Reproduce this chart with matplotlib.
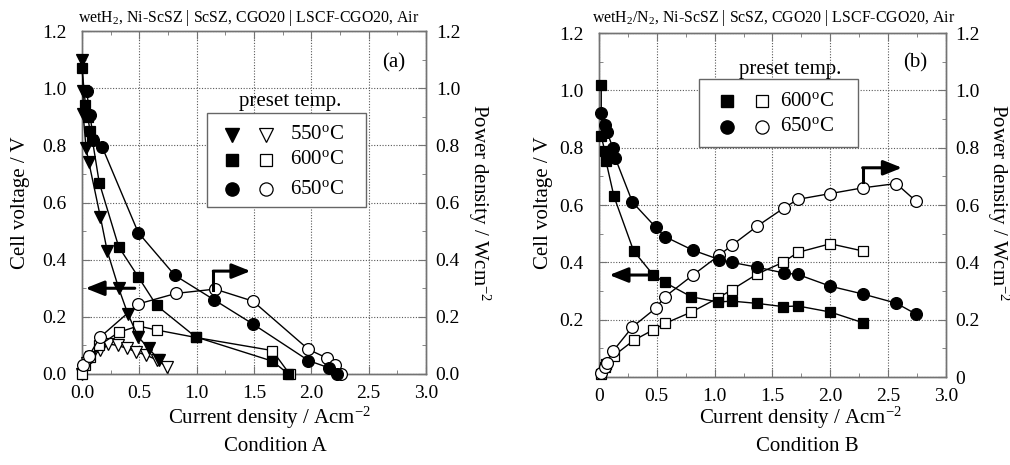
import matplotlib
matplotlib.use("Agg")
import matplotlib.pyplot as plt
from matplotlib.patches import Rectangle
from matplotlib.ticker import MultipleLocator, FixedLocator, FixedFormatter

plt.rcParams["font.family"] = ["Liberation Serif", "DejaVu Serif"]
plt.rcParams["mathtext.fontset"] = "custom"
plt.rcParams["mathtext.rm"] = "Liberation Serif"
plt.rcParams["mathtext.it"] = "Liberation Serif:italic"

# ---- Condition A (wet H2) ----
a550_i_v = [0.0, 0.01, 0.01, 0.035, 0.06, 0.16, 0.22, 0.32, 0.40, 0.49, 0.58, 0.67]
a550_v = [1.10, 0.99, 0.91, 0.79, 0.74, 0.55, 0.43, 0.30, 0.21, 0.13, 0.09, 0.05]
a550_i_p = [0.0, 0.02, 0.04, 0.08, 0.16, 0.23, 0.31, 0.39, 0.47, 0.56, 0.65, 0.74]
a550_p = [0.0, 0.02, 0.04, 0.06, 0.085, 0.105, 0.10, 0.09, 0.078, 0.066, 0.05, 0.025]

a600_i_v = [0.0, 0.03, 0.05, 0.07, 0.09, 0.15, 0.32, 0.49, 0.65, 0.99, 1.66, 1.80]
a600_v = [1.07, 0.94, 0.90, 0.85, 0.82, 0.67, 0.445, 0.34, 0.24, 0.13, 0.045, 0.0]
a600_i_p = [0.0, 0.03, 0.07, 0.15, 0.32, 0.49, 0.65, 0.99, 1.66, 1.81]
a600_p = [0.0, 0.03, 0.06, 0.10, 0.146, 0.168, 0.154, 0.128, 0.082, 0.0]

a650_i_v = [0.04, 0.07, 0.10, 0.175, 0.49, 0.81, 1.15, 1.49, 1.975, 2.15, 2.22]
a650_v = [0.99, 0.905, 0.82, 0.795, 0.495, 0.345, 0.26, 0.175, 0.047, 0.022, 0.0]
a650_i_p = [0.01, 0.06, 0.155, 0.49, 0.82, 1.16, 1.49, 1.975, 2.14, 2.21, 2.26]
a650_p = [0.03, 0.063, 0.128, 0.245, 0.282, 0.297, 0.255, 0.086, 0.055, 0.031, 0.0]

# ---- Condition B (wet H2/N2) ----
b600_i = [0.02, 0.02, 0.05, 0.06, 0.13, 0.30, 0.47, 0.57, 0.80, 1.03, 1.15, 1.37, 1.59, 1.72, 2.0, 2.28]
b600_v = [1.02, 0.84, 0.79, 0.755, 0.63, 0.44, 0.356, 0.33, 0.28, 0.262, 0.265, 0.257, 0.246, 0.248, 0.227, 0.19]
b600_i_p = [0.02, 0.05, 0.06, 0.13, 0.30, 0.47, 0.57, 0.80, 1.03, 1.15, 1.37, 1.59, 1.72, 2.0, 2.28]
b600_p = [0.01, 0.035, 0.045, 0.075, 0.128, 0.165, 0.187, 0.227, 0.276, 0.305, 0.36, 0.40, 0.435, 0.465, 0.44]

b650_i = [0.02, 0.05, 0.07, 0.12, 0.14, 0.29, 0.49, 0.57, 0.81, 1.04, 1.15, 1.37, 1.6, 1.72, 2.0, 2.28, 2.57, 2.74]
b650_v = [0.92, 0.88, 0.855, 0.80, 0.765, 0.61, 0.523, 0.49, 0.443, 0.41, 0.40, 0.383, 0.363, 0.358, 0.317, 0.29, 0.258, 0.22]
b650_i_p = [0.02, 0.05, 0.07, 0.12, 0.29, 0.49, 0.57, 0.81, 1.04, 1.15, 1.37, 1.6, 1.72, 2.0, 2.28, 2.57, 2.74]
b650_p = [0.015, 0.035, 0.05, 0.09, 0.175, 0.24, 0.28, 0.355, 0.425, 0.46, 0.527, 0.59, 0.62, 0.64, 0.66, 0.675, 0.614]

x_ticks = [0.0, 0.5, 1.0, 1.5, 2.0, 2.5, 3.0]
y_ticks = [0.0, 0.2, 0.4, 0.6, 0.8, 1.0, 1.2]
temps_a = ["550$^{\\rm o}$C", "600$^{\\rm o}$C", "650$^{\\rm o}$C"]
temps_b = ["600$^{\\rm o}$C", "650$^{\\rm o}$C"]

SPINE = "0.45"
MS = {"v": 8.5, "s": 7.5, "o": 8.5}
ARROW = "-|>,head_length=0.8,head_width=0.32"


def style_axes(ax, ax2, xlabels, ylabels_left, ylabels_right):
    ax.set_xlim(0, 3.0)
    ax.set_ylim(0, 1.2)
    ax2.set_ylim(0, 1.2)
    ax.xaxis.set_major_locator(FixedLocator(x_ticks))
    ax.xaxis.set_major_formatter(FixedFormatter(xlabels))
    ax.xaxis.set_minor_locator(MultipleLocator(0.25))
    ax.yaxis.set_major_locator(FixedLocator(y_ticks))
    ax.yaxis.set_major_formatter(FixedFormatter(ylabels_left))
    ax.yaxis.set_minor_locator(MultipleLocator(0.1))
    ax2.yaxis.set_major_locator(FixedLocator(y_ticks))
    ax2.yaxis.set_major_formatter(FixedFormatter(ylabels_right))
    ax2.yaxis.set_minor_locator(MultipleLocator(0.1))
    ax.grid(True, which="major", linestyle=(0, (1, 1.5)), linewidth=0.8, color="0.35")
    for a in (ax, ax2):
        a.tick_params(which="both", direction="in", labelsize=14, color=SPINE, pad=7)
        a.tick_params(which="major", length=6)
        a.tick_params(which="minor", length=3)
        for s in a.spines.values():
            s.set_color(SPINE)
            s.set_linewidth(1.0)
    ax.tick_params(which="both", top=True)
    ax.tick_params(axis="y", which="major", pad=11)
    ax.tick_params(axis="x", which="major", pad=8)


def curve(ax, x, y, marker, filled):
    ax.plot(x, y, color="black", lw=1.0, marker=marker, ms=MS[marker],
            mfc="black" if filled else "white", mec="black", mew=0.9,
            clip_on=False, zorder=4)


def legend_box(ax, box, title_xy, rows, marker_x, label_x, markers, labels):
    ax.add_patch(Rectangle(box[0], box[1], box[2], transform=ax.transAxes,
                           fc="white", ec="0.4", lw=1.0, zorder=8))
    ax.text(title_xy[0], title_xy[1], "preset temp.", transform=ax.transAxes,
            ha="center", va="center", fontsize=15, zorder=9)
    for y, m, lab in zip(rows, markers, labels):
        ax.plot([marker_x[0]], [y], transform=ax.transAxes, marker=m, ms=MS[m] + 1,
                mfc="black", mec="black", ls="none", zorder=9, clip_on=False)
        ax.plot([marker_x[1]], [y], transform=ax.transAxes, marker=m, ms=MS[m] + 1,
                mfc="white", mec="black", mew=0.9, ls="none", zorder=9, clip_on=False)
        ax.text(label_x, y, lab, transform=ax.transAxes, ha="left", va="center",
                fontsize=15, zorder=9)


def arrows(ax, left_arrow, bent):
    (x0, x1, y) = left_arrow
    ax.annotate("", xy=(x1, y), xytext=(x0, y),
                arrowprops=dict(arrowstyle=ARROW, mutation_scale=14,
                                color="black", lw=2.2, shrinkA=0, shrinkB=0),
                zorder=7)
    (bx, by0, by1, bx1) = bent
    ax.plot([bx, bx], [by0, by1], color="black", lw=2.2, zorder=7,
            solid_capstyle="projecting")
    ax.annotate("", xy=(bx1, by1), xytext=(bx, by1),
                arrowprops=dict(arrowstyle=ARROW, mutation_scale=14,
                                color="black", lw=2.2, shrinkA=0, shrinkB=0),
                zorder=7)


fig = plt.figure(figsize=(10.1, 4.65), dpi=100)

# ---------- panel (a) ----------
axA = fig.add_axes([0.0812, 0.1957, 0.3406, 0.7376])
axA2 = axA.twinx()
style_axes(axA, axA2, ["0.0", "0.5", "1.0", "1.5", "2.0", "2.5", "3.0"],
           ["0.0", "0.2", "0.4", "0.6", "0.8", "1.0", "1.2"],
           ["0.0", "0.2", "0.4", "0.6", "0.8", "1.0", "1.2"])
curve(axA2, a550_i_p, a550_p, "v", False)
curve(axA2, a600_i_p, a600_p, "s", False)
curve(axA2, a650_i_p, a650_p, "o", False)
curve(axA2, a550_i_v, a550_v, "v", True)
curve(axA2, a600_i_v, a600_v, "s", True)
curve(axA2, a650_i_v, a650_v, "o", True)
legend_box(axA2, ((0.363, 0.487), 0.463, 0.274), (0.605, 0.795),
           [0.697, 0.624, 0.539], (0.436, 0.535), 0.605, ["v", "s", "o"], temps_a)
arrows(axA2, (0.46, 0.03, 0.30), (1.145, 0.295, 0.36, 1.47))
axA2.text(2.72, 1.09, "(a)", fontsize=15, ha="center", va="center")

# ---------- panel (b) ----------
axB = fig.add_axes([0.593, 0.189, 0.3436, 0.740])
axB2 = axB.twinx()
style_axes(axB, axB2, ["0", "0.5", "1.0", "1.5", "2.0", "2.5", "3.0"],
           ["", "0.2", "0.4", "0.6", "0.8", "1.0", "1.2"],
           ["0", "0.2", "0.4", "0.6", "0.8", "1.0", "1.2"])
curve(axB2, b600_i_p, b600_p, "s", False)
curve(axB2, b650_i_p, b650_p, "o", False)
curve(axB2, b600_i, b600_v, "s", True)
curve(axB2, b650_i, b650_v, "o", True)
legend_box(axB2, ((0.288, 0.669), 0.458, 0.197), (0.55, 0.893),
           [0.802, 0.727], (0.369, 0.47), 0.522, ["s", "o"], temps_b)
arrows(axB2, (0.42, 0.09, 0.356), (2.28, 0.68, 0.73, 2.62))
axB2.text(2.73, 1.095, "(b)", fontsize=15, ha="center", va="center")

# ---------- texts ----------
fig.text(0.246, 0.962, "wetH$_2$, Ni-ScSZ | ScSZ, CGO20 | LSCF-CGO20, Air",
         ha="center", va="center", fontsize=11.4)
fig.text(0.766, 0.962, "wetH$_2$/N$_2$, Ni-ScSZ | ScSZ, CGO20 | LSCF-CGO20, Air",
         ha="center", va="center", fontsize=11.4)
for xc, cond in ((0.267, "Condition A"), (0.793, "Condition B")):
    fig.text(xc, 0.101, "Current density / Acm$^{-2}$", ha="center", va="center",
             fontsize=15)
    fig.text(xc + 0.006, 0.039, cond, ha="center", va="center", fontsize=15)
for xl, xr in ((0.020, 0.474), (0.538, 0.988)):
    fig.text(xl, 0.565, "Cell voltage / V", rotation=90, ha="center",
             va="center", fontsize=15)
    fig.text(xr, 0.565, "Power density / Wcm$^{-2}$", rotation=270, ha="center",
             va="center", fontsize=15)

fig.savefig("out.png", dpi=100)
